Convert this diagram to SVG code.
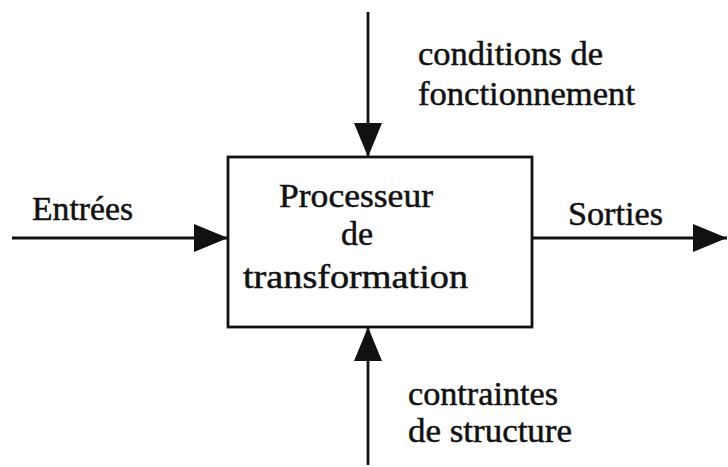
<svg xmlns="http://www.w3.org/2000/svg" width="728" height="467" viewBox="0 0 728 467">
<defs>
<style>
text { font-family: "Liberation Serif", "Times New Roman", serif; font-size: 34px; fill: #111; stroke: #111; stroke-width: 0.5; }
.line { stroke: #111; stroke-width: 2.8; fill: none; }
.box { stroke: #111; stroke-width: 2.8; fill: #fff; }
</style>
<marker id="arrow" markerUnits="userSpaceOnUse" markerWidth="34" markerHeight="28" refX="34" refY="14" orient="auto" viewBox="0 0 34 28">
<path d="M0,0 L34,14 L0,28 z" fill="#111"/>
</marker>
</defs>
<rect width="728" height="467" fill="#fff"/>
<g id="connectors">
<path class="line" d="M368,12 V157" marker-end="url(#arrow)"/>
<path class="line" d="M12,238 H228" marker-end="url(#arrow)"/>
<path class="line" d="M532,238 H727" marker-end="url(#arrow)"/>
<path class="line" d="M368,465 V327" marker-end="url(#arrow)"/>
</g>
<g id="processeur">
<rect class="box" x="228" y="157" width="304" height="170"/>
<text x="279" y="207" textLength="154" lengthAdjust="spacingAndGlyphs">Processeur</text>
<text x="357" y="245" text-anchor="middle">de</text>
<text x="243" y="288" textLength="225" lengthAdjust="spacingAndGlyphs">transformation</text>
</g>
<g id="label-conditions">
<text x="418" y="65" textLength="185" lengthAdjust="spacingAndGlyphs">conditions de</text>
<text x="418" y="105" textLength="217" lengthAdjust="spacingAndGlyphs">fonctionnement</text>
</g>
<g id="label-entrees">
<text x="32" y="220" textLength="101" lengthAdjust="spacingAndGlyphs">Entrées</text>
</g>
<g id="label-sorties">
<text x="568" y="225" textLength="95" lengthAdjust="spacingAndGlyphs">Sorties</text>
</g>
<g id="label-contraintes">
<text x="408" y="405" textLength="150" lengthAdjust="spacingAndGlyphs">contraintes</text>
<text x="408" y="442" textLength="164" lengthAdjust="spacingAndGlyphs">de structure</text>
</g>
</svg>
